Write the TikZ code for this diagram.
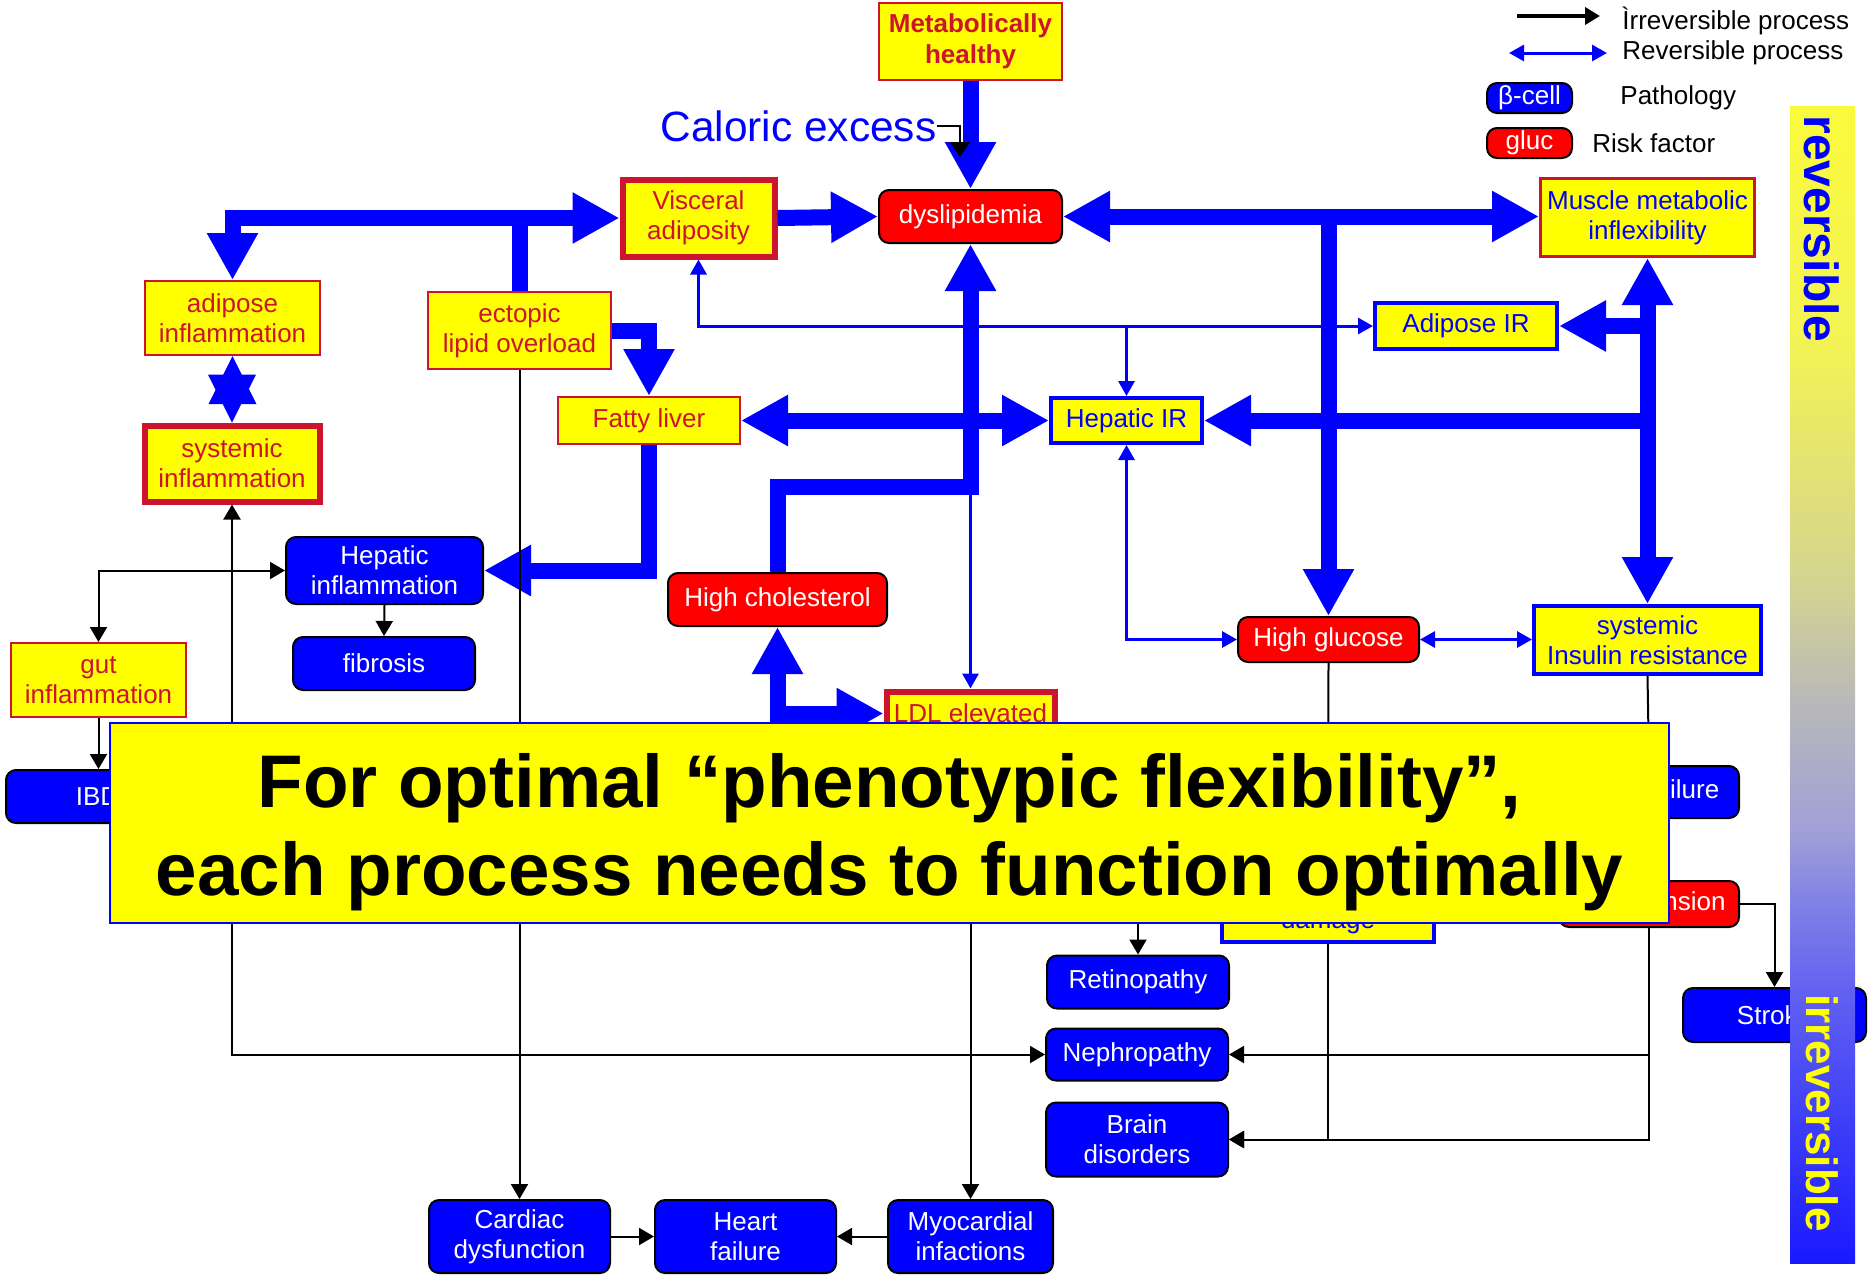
\documentclass[tikz,border=0pt]{standalone}
\usepackage{fontspec}
\setmainfont{Liberation Sans}
\usetikzlibrary{positioning,arrows.meta}

\definecolor{riskred}{RGB}{205,20,45}
\definecolor{fullblue}{RGB}{0,0,255}
\definecolor{fullyellow}{RGB}{255,255,0}
\definecolor{fullred}{RGB}{255,0,0}
% colours of the reversibility bar, top to bottom
\definecolor{barA}{RGB}{250,250,60}
\definecolor{barB}{RGB}{242,242,85}
\definecolor{barC}{RGB}{212,212,145}
\definecolor{barD}{RGB}{185,185,185}
\definecolor{barE}{RGB}{160,160,215}
\definecolor{barF}{RGB}{130,130,230}
\definecolor{barG}{RGB}{95,95,242}
\definecolor{barH}{RGB}{25,25,255}
\pgfdeclareverticalshading{revbar}{100bp}{
    color(0bp)=(barH); color(25bp)=(barH); color(36.4bp)=(barG);
    color(40.7bp)=(barF); color(43.7bp)=(barE); color(49.3bp)=(barD);
    color(54.4bp)=(barC); color(64.5bp)=(barB); color(75bp)=(barA);
    color(100bp)=(barA)}

\tikzset{
    bigtip/.tip={Triangle[width=24pt,length=23.5pt]},
    thintip/.tip={Triangle[width=8pt,length=7.5pt]},
    blktip/.tip={Triangle[width=8.5pt,length=7.5pt]}
}

\begin{document}
\begin{tikzpicture}[
    x=0.5pt, y=-0.5pt,
    font=\fontsize{13}{15}\selectfont,
    inner sep=1pt,
    sz/.style 2 args={minimum width=#1pt, minimum height=#2pt},
    risk/.style={
        draw=riskred, line width=1pt,
        fill=fullyellow, text=riskred,
        align=center
    },
    riskthick/.style={risk, line width=3pt},
    musc/.style={
        draw=riskred, line width=1.5pt,
        fill=fullyellow, text=fullblue,
        align=center
    },
    irbox/.style={
        draw=fullblue, line width=2pt,
        fill=fullyellow, text=fullblue,
        align=center
    },
    patho/.style={
        draw=black, line width=1pt,
        rounded corners=5pt,
        fill=fullblue, text=white,
        align=center
    },
    factor/.style={patho, fill=fullred},
    big/.style={draw=fullblue, line width=8pt, -bigtip},
    bigboth/.style={big, bigtip-bigtip},
    thinb/.style={draw=fullblue, line width=1.5pt, -thintip},
    thinboth/.style={thinb, thintip-thintip},
    blk/.style={draw=black, line width=1pt, -blktip},
    blkboth/.style={blk, blktip-blktip},
    legtxt/.style={anchor=west, inner sep=0pt},
    banner/.style={
        draw=fullblue, line width=1pt,
        fill=fullyellow, align=center,
        font=\fontsize{37.3}{44}\selectfont\bfseries
    },
    vlabel/.style={rotate=-90, inner sep=0pt, font=\fontsize{24}{26}\selectfont\bfseries}
]

\useasboundingbox (0,0) rectangle (1868,1275);

% Top row
\node[risk, sz={91.5}{38.5}, font=\fontsize{13}{15.5}\selectfont\bfseries]
    (mhealthy) at (970.5,41.5) {Metabolically\\healthy};
\node[text=fullblue, inner sep=0pt, font=\fontsize{21.2}{24}\selectfont]
    (calexc) at (798.5,126) {Caloric excess};
\node[riskthick, sz={76}{38.5}]   (visc)    at (698.5,218)  {Visceral\\adiposity};
\node[factor, sz={91.5}{26.5}]    (dys)     at (970.5,216.5) {dyslipidemia};
\node[musc, sz={107}{39}]         (muscle)  at (1647.5,217.5) {Muscle metabolic\\inflexibility};

% Left column
\node[risk, sz={87.5}{37}]        (adinfl)  at (232.5,318)  {adipose\\inflammation};
\node[riskthick, sz={87.5}{38}]   (sysinfl) at (232,463.5)  {systemic\\inflammation};
\node[risk, sz={91.5}{38.5}]      (ectopic) at (519.5,330.5) {ectopic\\lipid overload};
\node[risk, sz={91}{23.5}]        (fatty)   at (649,420.5)  {Fatty liver};
\node[patho, sz={98.5}{33.5}]     (hepinfl) at (384.5,570.5) {Hepatic\\inflammation};
\node[patho, sz={91}{26.5}]       (fibrosis) at (384,663.5) {fibrosis};
\node[risk, sz={87.5}{37}]        (gutinfl) at (98.5,680)   {gut\\inflammation};
\node[patho, sz={91.5}{26.5}]     (ibd)     at (97.5,796.5) {IBD};

% Insulin resistance
\node[irbox, sz={91}{23}]         (adipIR)  at (1466,326)   {Adipose IR};
\node[irbox, sz={75.5}{22.5}]     (hepIR)   at (1126.5,420.5) {Hepatic IR};
\node[irbox, sz={113.5}{34}]      (sysIR)   at (1647.5,640) {systemic\\Insulin resistance};

% Risk factors
\node[factor, sz={109.5}{26.5}]   (hchol)   at (777.5,599.5) {High cholesterol};
\node[factor, sz={90.5}{22.5}]    (hglu)    at (1328.5,639.5) {High glucose};
\node[riskthick, sz={84}{22}]     (ldl)     at (970.5,713.5) {LDL elevated};
\node[patho, sz={90}{26}]         (bcfail)  at (1649,792)   {β-cell failure};
\node[factor, sz={90}{23}]        (hyper)   at (1649,904)   {Hypertension};
\node[irbox, sz={106}{36}]        (dmg)     at (1328,906)   {\strut\\damage};

% Pathologies
\node[patho, sz={91}{26.5}]       (retino)  at (1138,982) {Retinopathy};
\node[patho, sz={91}{26}]         (nephro)  at (1137,1054.5)  {Nephropathy};
\node[patho, sz={91}{37}]         (brain)   at (1137,1139.5)  {Brain\\disorders};
\node[patho, sz={90.5}{36.5}]     (cardiac) at (519.5,1236.5) {Cardiac\\dysfunction};
\node[patho, sz={90.5}{36.5}]     (heartf)  at (745.5,1236.5) {Heart\\failure};
\node[patho, sz={82.5}{36.5}]     (myoc)    at (970.5,1236.5) {Myocardial\\infactions};
\node[patho, sz={91.5}{27}]       (stroke)  at (1774.5,1015) {Stroke};

% Legend
\node[patho, sz={42.5}{15}]       (lgbeta)  at (1529.5,98)  {β-cell};
\node[factor, sz={42.5}{15}]      (lggluc)  at (1529.5,143) {gluc};
\node[legtxt] (lgirr)  at (1622,21)  {Ìrreversible process};
\node[legtxt] (lgrev)  at (1622,53)  {Reversible process};
\node[legtxt] (lgpath) at (1620,98)  {Pathology};
\node[legtxt] (lgrisk) at (1592,143) {Risk factor};
\draw[blk, line width=2pt] ([xshift=-52.5pt,yshift=2.5pt]lgirr.west) -- ([xshift=-11pt,yshift=2.5pt]lgirr.west);
\draw[thinboth] ([xshift=-56.5pt]lgrev.west) -- ([xshift=-7.5pt]lgrev.west);

% Helper points
\coordinate (cholj)  at (970.5,487);
\coordinate (caltip) at (960,157);
\coordinate (retsrc) at (1138,900);

% Reversible processes (thick)
\draw[big] (mhealthy.south) -- (dys.north);
\draw[big] (visc.east) -- (dys.west);
\draw[big] (ectopic.north) |- (visc.west);
\draw[big] (ectopic.north |- visc.west) -| (adinfl.north);
\draw[big] (ectopic.east) -| (fatty.north);
\draw[big] (fatty.south) |- (hepinfl.east);
\draw[bigboth] (fatty.east) -- (hepIR.west);
\draw[big] (hchol.north) |- (cholj) -- (dys.south);
\draw[bigboth] (hchol.south) |- (ldl.west);
\draw[bigboth] (dys.east) -- (dys.east -| muscle.west);
\draw[big] (dys.east -| hglu.north) -- (hglu.north);
\draw[bigboth] (muscle.south) -- (sysIR.north);
\draw[big] (adipIR.east -| muscle.south) -- (adipIR.east);
\draw[big] (hepIR.east -| muscle.south) -- (hepIR.east);
\fill[fullblue] (adinfl.south) -- ++(-24,48) -- ++(48,0) -- cycle;
\fill[fullblue] (sysinfl.north) -- ++(-24,-48) -- ++(48,0) -- cycle;

% Reversible processes (thin)
\draw[thinboth] (visc.south) |- (adipIR.west);
\draw[thinb] (hepIR.north |- adipIR.west) -- (hepIR.north);
\draw[thinboth] (hepIR.south) |- (hglu.west);
\draw[thinboth] (hglu.east) -- (hglu.east -| sysIR.west);
\draw[thinb] (cholj) -- (ldl.north);

% Irreversible processes
\draw[blk, -{Triangle[width=10pt,length=7.5pt]}] (calexc.east) -| (caltip);
\draw[blk] (ectopic.south) -- (cardiac.north);
\draw[blk] (ldl.south) -- (myoc.north);
\draw[blkboth] (sysinfl.south) |- (nephro.west);
\draw[blkboth] (gutinfl.north) |- (hepinfl.west);
\draw[blk] (gutinfl.south) -- (gutinfl.south |- ibd.north);
\draw[blk] (hepinfl.south) -- (fibrosis.north);
\draw[blk] (cardiac.east) -- (heartf.west);
\draw[blk] (myoc.west) -- (heartf.east);
\draw[blk] (hglu.south) -- (dmg.north);
\draw[blk] (sysIR.south) -- (bcfail.north);
\draw[blk] (bcfail.south) -- (hyper.north);
\draw[blk] (hyper.south) |- (nephro.east);
\draw[blk] (hyper.south) |- (brain.east);
\draw[blk] (dmg.south) |- (brain.east);
\draw[blk] (hyper.east) -| (stroke.north);
\draw[blk] (retsrc) -- (retino.north);

% Reversibility bar
\shade[shading=revbar] (1790,106) rectangle (1855,1263);
\node[vlabel, text=fullblue] (revlbl) at (1822,229) {reversible};
\node[vlabel, text=fullyellow, font=\fontsize{22}{24}\selectfont\bfseries] (irrlbl) at (1822,1113) {irreversible};

% Message on top
\node[banner, sz={779.5}{100}] (flexnote) at (889.5,823)
    {\rule{0pt}{35.8pt}For optimal “phenotypic flexibility”,\\each process needs to function optimally};

\end{tikzpicture}
\end{document}
